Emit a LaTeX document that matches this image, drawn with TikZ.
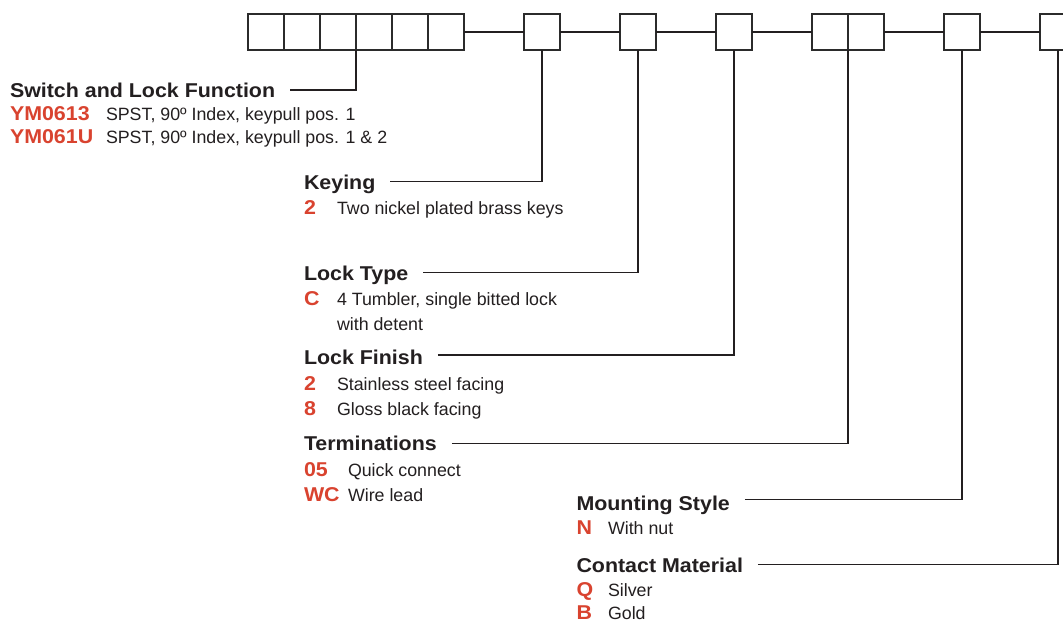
\documentclass[tikz,border=0pt]{standalone}
\usepackage{fontspec}
\setmainfont{Liberation Sans}
\newfontfamily\headfont[FakeStretch=1.07]{Liberation Sans}
\usetikzlibrary{calc}
\definecolor{codered}{HTML}{D9432F}
\definecolor{ink}{HTML}{231F20}
\definecolor{linegray}{HTML}{2B2B2B}
\tikzset{
  box/.style={draw=linegray, line width=1.2pt, minimum width=36pt, minimum height=36pt, inner sep=0pt, outer sep=0pt},
  head/.style={anchor=base west, inner sep=0pt, outer sep=0pt, font=\headfont\bfseries\fontsize{20}{24}\selectfont, text=ink},
  code/.style={anchor=base west, inner sep=0pt, outer sep=0pt, font=\headfont\bfseries\fontsize{20}{24}\selectfont, text=codered},
  desc/.style={anchor=base west, inner sep=0pt, outer sep=0pt, font=\fontsize{17.8}{21}\selectfont, text=ink},
  lead/.style={draw=ink, line width=1.1pt}
}
\begin{document}
\begin{tikzpicture}[x=1pt,y=-1pt]
\useasboundingbox[fill=white] (0,0) rectangle (1063,622);
\begin{scope}
\clip (0,0) rectangle (1063,622);
\foreach \i/\x in {1/266,2/302,3/338,4/374,5/410,6/446,7/542,8/638,9/734,10/830,11/866,12/962,13/1058}
  \node[box] (b\i) at (\x,32) {};
\draw[lead] (b6.east) -- (b7.west);
\draw[lead] (b7.east) -- (b8.west);
\draw[lead] (b8.east) -- (b9.west);
\draw[lead] (b9.east) -- (b10.west);
\draw[lead] (b11.east) -- (b12.west);
\draw[lead] (b12.east) -- (b13.west);
\end{scope}

% Switch and Lock Function
\node[head] (h1) at (10,97) {Switch and Lock Function};
\node[code] (c1a) at (10,120) {YM0613};
\node[desc] (d1a) at (106,120) {SPST, 90º Index, keypull pos. 1};
\node[code] (c1b) at (10,143) {YM061U};
\node[desc] (d1b) at (106,143) {SPST, 90º Index, keypull pos. 1 \& 2};

% Keying
\node[head] (h2) at (304,189.5) {Keying};
\node[code] (c2) at (304,214.5) {2};
\node[desc] (d2) at (337,214.5) {Two nickel plated brass keys};

% Lock Type
\node[head] (h3) at (304,280) {Lock Type};
\node[code] (c3) at (304,305.5) {C};
\node[desc] (d3a) at (337,305.5) {4 Tumbler, single bitted lock};
\node[desc] (d3b) at (337,330) {with detent};

% Lock Finish
\node[head] (h4) at (304,364.5) {Lock Finish};
\node[code] (c4a) at (304,390) {2};
\node[desc] (d4a) at (337,390) {Stainless steel facing};
\node[code] (c4b) at (304,415) {8};
\node[desc] (d4b) at (337,415) {Gloss black facing};

% Terminations
\node[head] (h5) at (304,450) {Terminations};
\node[code] (c5a) at (304,476) {05};
\node[desc] (d5a) at (348,476) {Quick connect};
\node[code] (c5b) at (304,501) {WC};
\node[desc] (d5b) at (348,501) {Wire lead};

% Mounting Style
\node[head] (h6) at (576.5,510) {Mounting Style};
\node[code] (c6) at (576.5,534.5) {N};
\node[desc] (d6) at (608,534.5) {With nut};

% Contact Material
\node[head] (h7) at (576.5,572) {Contact Material};
\node[code] (c7a) at (576.5,596.5) {Q};
\node[desc] (d7a) at (608,596.5) {Silver};
\node[code] (c7b) at (576.5,619) {B};
\node[desc] (d7b) at (608,619) {Gold};

% leader start points
\coordinate (j1) at ($(h1.base east)+(15,-7)$);
\coordinate (j2) at ($(h2.base east)+(15,-7.8)$);
\coordinate (j3) at ($(h3.base east)+(15,-7.3)$);
\coordinate (j4) at ($(h4.base east)+(15,-9.5)$);
\coordinate (j5) at ($(h5.base east)+(15,-6.7)$);
\coordinate (j6) at ($(h6.base east)+(15,-10.7)$);
\coordinate (j7) at ($(h7.base east)+(15,-7.7)$);

\draw[lead] (j1) -| (b3.south east);
\draw[lead] (j2) -| (b7.south);
\draw[lead] (j3) -| (b8.south);
\draw[lead] (j4) -| (b9.south);
\draw[lead] (j5) -| (b10.south east);
\draw[lead] (j6) -| (b12.south);
\draw[lead] (j7) -| (b13.south);
\end{tikzpicture}
\end{document}
